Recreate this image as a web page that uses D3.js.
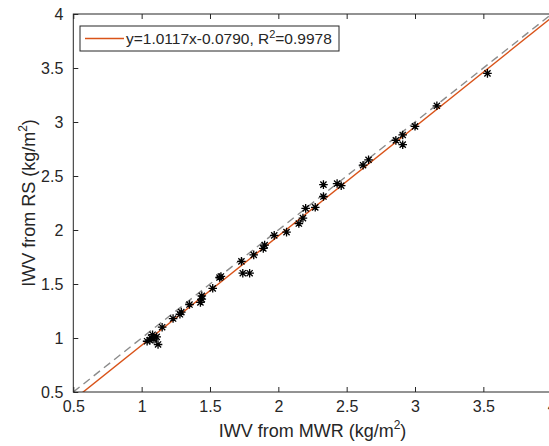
<!DOCTYPE html>
<html>
<head>
<meta charset="utf-8">
<script src="https://cdn.jsdelivr.net/npm/d3@7"></script>
<style>
    body { margin: 0; background: #fff; overflow: hidden; }
    text { font-family: "Liberation Sans", Arial, sans-serif; fill: #262626; }
</style>
</head>
<body>
<div id="chart"></div>
<script>
(function () {
    // IWV from MWR (x) vs IWV from RS (y), kg/m2
    var mwr = [1.04, 1.06, 1.07, 1.08, 1.09, 1.11, 1.12, 1.15, 1.23, 1.28,
               1.29, 1.35, 1.43, 1.44, 1.44, 1.52, 1.57, 1.58, 1.73, 1.74,
               1.79, 1.82, 1.89, 1.90, 1.97, 2.06, 2.15, 2.18, 2.20, 2.27,
               2.33, 2.33, 2.43, 2.46, 2.62, 2.66, 2.86, 2.91, 2.91, 3.00,
               3.16, 3.53];
    var rs  = [0.97, 0.98, 1.00, 1.03, 0.99, 1.01, 0.94, 1.10, 1.18, 1.22,
               1.24, 1.31, 1.33, 1.36, 1.39, 1.46, 1.56, 1.57, 1.71, 1.60,
               1.60, 1.77, 1.83, 1.86, 1.95, 1.98, 2.06, 2.11, 2.20, 2.21,
               2.31, 2.42, 2.43, 2.41, 2.60, 2.65, 2.83, 2.88, 2.79, 2.96,
               3.15, 3.45];

    var slope = 1.0117, intercept = -0.0790;
    var ticks = [0.5, 1, 1.5, 2, 2.5, 3, 3.5, 4];
    var domain = [0.5, 4];

    const width = 549, height = 446;
    const left = 73.3, right = 551.7, top = 14, bottom = 392;
    const axis_color = '#262626';
    const tick_len = 5;

    var x = d3.scaleLinear().domain(domain).range([left, right]);
    var y = d3.scaleLinear().domain(domain).range([bottom, top]);

    var svg = d3.select('#chart').append('svg')
        .attr('width', width)
        .attr('height', height);

    svg.append('defs').append('clipPath').attr('id', 'plotclip')
        .append('rect')
        .attr('x', left).attr('y', top)
        .attr('width', right - left).attr('height', bottom - top);

    var plot = svg.append('g').attr('clip-path', 'url(#plotclip)');

    // 1:1 reference line
    plot.append('line')
        .attr('x1', x(domain[0])).attr('y1', y(domain[0]))
        .attr('x2', x(domain[1])).attr('y2', y(domain[1]))
        .attr('stroke', '#8c8c8c')
        .attr('stroke-width', 1.4)
        .attr('stroke-dasharray', '8,5');

    // fit line
    plot.append('line')
        .attr('x1', x(domain[0])).attr('y1', y(slope * domain[0] + intercept))
        .attr('x2', x(domain[1])).attr('y2', y(slope * domain[1] + intercept))
        .attr('stroke', '#D95319')
        .attr('stroke-width', 1.4);

    // star markers
    var pts = mwr.map(function (d, i) { return {x: d, y: rs[i]}; });
    var star = 'M-4.3,0L4.3,0M0,-4.3L0,4.3M-3.1,-3.1L3.1,3.1M-3.1,3.1L3.1,-3.1';
    plot.selectAll('.pt').data(pts)
        .enter().append('path')
        .attr('class', 'pt')
        .attr('transform', function (d) { return `translate(${x(d.x)},${y(d.y)})`; })
        .attr('d', star)
        .attr('stroke', '#000')
        .attr('stroke-width', 1.3)
        .attr('fill', 'none');

    // axes frame
    svg.append('rect')
        .attr('x', left).attr('y', top)
        .attr('width', right - left).attr('height', bottom - top)
        .attr('fill', 'none')
        .attr('stroke', axis_color)
        .attr('stroke-width', 1);

    var xAxis = d3.axisBottom(x).tickValues(ticks).tickSize(-tick_len).tickPadding(tick_len + 4)
        .tickFormat(d3.format(''));
    var yAxis = d3.axisLeft(y).tickValues(ticks).tickSize(-tick_len).tickPadding(tick_len + 5)
        .tickFormat(d3.format(''));
    var xTop = d3.axisTop(x).tickValues(ticks).tickSize(-tick_len).tickFormat('');

    var gx = svg.append('g').attr('transform', `translate(0,${bottom})`).call(xAxis);
    var gy = svg.append('g').attr('transform', `translate(${left},0)`).call(yAxis);
    var gt = svg.append('g').attr('transform', `translate(0,${top})`).call(xTop);

    [gx, gy, gt].forEach(function (g) {
        g.select('.domain').remove();
        g.selectAll('.tick line').attr('stroke', axis_color);
        g.selectAll('.tick text')
            .attr('font-size', 16)
            .attr('font-family', '"Liberation Sans", Arial, sans-serif')
            .attr('fill', axis_color);
    });

    // axis labels
    var xl = svg.append('text')
        .attr('x', (left + right) / 2)
        .attr('y', 437)
        .attr('text-anchor', 'middle')
        .attr('font-size', 18);
    xl.append('tspan').text('IWV from MWR (kg/m');
    xl.append('tspan').attr('font-size', 12).attr('dy', -8).text('2');
    xl.append('tspan').attr('dy', 8).text(')');

    var yl = svg.append('text')
        .attr('transform', `translate(35,${(top + bottom) / 2}) rotate(-90)`)
        .attr('text-anchor', 'middle')
        .attr('font-size', 18);
    yl.append('tspan').text('IWV from RS (kg/m');
    yl.append('tspan').attr('font-size', 12).attr('dy', -8).text('2');
    yl.append('tspan').attr('dy', 8).text(')');

    // legend
    var legend = svg.append('g').attr('transform', 'translate(80,26)');
    legend.append('rect')
        .attr('x', 0).attr('y', 0)
        .attr('width', 259).attr('height', 25)
        .attr('fill', '#fff')
        .attr('stroke', axis_color)
        .attr('stroke-width', 1);
    legend.append('line')
        .attr('x1', 5).attr('x2', 44)
        .attr('y1', 12.5).attr('y2', 12.5)
        .attr('stroke', '#D95319')
        .attr('stroke-width', 1.4);
    var lt = legend.append('text')
        .attr('x', 46).attr('y', 18)
        .attr('font-size', 15.5);
    lt.append('tspan').text('y=1.0117x-0.0790, R');
    lt.append('tspan').attr('font-size', 11).attr('dy', -6).text('2');
    lt.append('tspan').attr('dy', 6).text('=0.9978');
})();
</script>
</body>
</html>
